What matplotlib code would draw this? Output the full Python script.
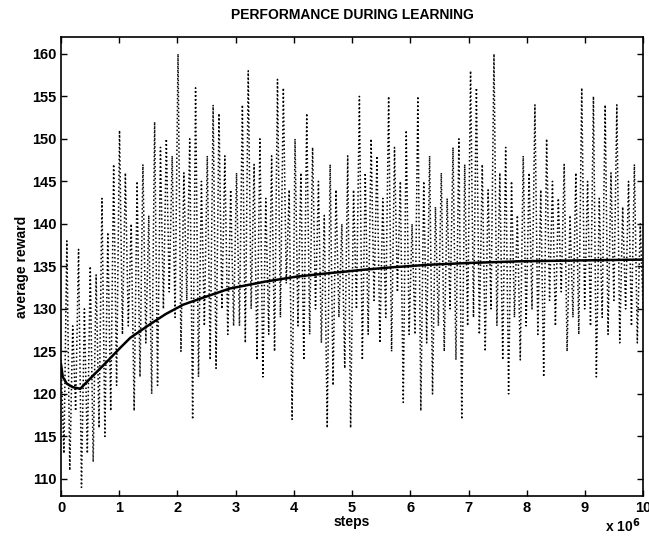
import numpy as np
import matplotlib
matplotlib.use("Agg")
import matplotlib.pyplot as plt

plt.rcParams['font.family'] = ['Liberation Sans', 'DejaVu Sans']
plt.rcParams['font.weight'] = 'bold'

# noisy per-episode reward (high, low pairs, x in units of 1e6 steps)
reward_pairs = [
    # 0.0 - 0.95
    (124, 113), (138, 111), (128, 118), (137, 109), (130, 113), (135, 112), (134, 116), (143, 115), (139, 118), (147, 121),
    # 1.0 - 1.95
    (151, 127), (146, 128), (140, 118), (145, 122), (147, 126), (141, 120), (152, 121), (149, 130), (150, 132), (148, 129),
    # 2.0 - 2.95
    (160, 125), (146, 131), (150, 117), (156, 122), (145, 128), (148, 124), (154, 123), (153, 130), (148, 127), (144, 128),
    # 3.0 - 3.95
    (146, 128), (154, 126), (158, 130), (147, 124), (150, 122), (143, 127), (148, 125), (157, 129), (156, 133), (144, 117),
    # 4.0 - 4.95
    (150, 128), (146, 124), (153, 127), (149, 130), (145, 126), (141, 116), (147, 121), (144, 129), (140, 123), (148, 116),
    # 5.0 - 5.95
    (144, 130), (155, 124), (146, 127), (150, 131), (148, 126), (143, 129), (155, 125), (149, 132), (145, 119), (151, 127),
    # 6.0 - 6.95
    (140, 127), (155, 118), (145, 126), (148, 120), (142, 128), (146, 125), (143, 130), (149, 124), (150, 117), (147, 128),
    # 7.0 - 7.95
    (158, 129), (156, 127), (147, 125), (144, 130), (160, 128), (146, 124), (149, 120), (145, 129), (141, 124), (148, 128),
    # 8.0 - 8.95
    (146, 130), (154, 127), (144, 122), (150, 131), (145, 128), (143, 132), (147, 125), (141, 129), (146, 127), (156, 130),
    # 9.0 - 9.95
    (145, 128), (155, 122), (143, 129), (154, 127), (146, 131), (154, 126), (142, 130), (145, 128), (147, 126), (140, 130),
]
reward = [v for pair in reward_pairs for v in pair]
reward_steps = np.linspace(0, 10, len(reward))

# running average reward
avg_steps = [0.0, 0.03, 0.1, 0.2, 0.33, 0.5, 0.79, 1.0, 1.19, 1.53, 1.8, 2.1, 2.39, 2.9,
             3.5, 4.05, 4.6, 5.19, 5.7, 6.34, 7.0, 7.89, 8.9, 10.0]
avg_reward = [123.5, 122.0, 121.2, 120.8, 120.6, 121.8, 123.8, 125.3, 126.6, 128.2, 129.4,
              130.5, 131.2, 132.4, 133.2, 133.8, 134.2, 134.6, 134.9, 135.2, 135.4, 135.6,
              135.7, 135.8]

x_ticks = list(range(0, 11))
y_ticks = list(range(110, 161, 5))

fig = plt.figure(figsize=(6.49, 5.42), dpi=100)
ax = fig.add_axes([0.094, 0.085, 0.897, 0.847])

ax.plot(reward_steps, reward, color='black', linewidth=1.1, linestyle=(0, (1, 1.6)))
ax.plot(avg_steps, avg_reward, color='black', linewidth=1.8)

ax.set_xlim(0, 10)
ax.set_ylim(108, 162)
ax.set_xticks(x_ticks)
ax.set_yticks(y_ticks)
ax.tick_params(direction='in', top=True, right=True, labelsize=10.5, length=4, width=1)
for lab in ax.get_xticklabels() + ax.get_yticklabels():
    lab.set_fontweight('bold')
for s in ax.spines.values():
    s.set_linewidth(1.2)

ax.set_title('PERFORMANCE DURING LEARNING', fontsize=10, fontweight='bold', pad=13)
ax.set_xlabel('steps', fontsize=10, fontweight='bold', labelpad=0)
ax.set_ylabel('average reward', fontsize=10, fontweight='bold', labelpad=2)
fig.text(0.932, 0.012, r'x 10$^{\mathbf{6}}$', fontsize=10, fontweight='bold', ha='left', va='bottom')

fig.savefig('out.png', dpi=100)
